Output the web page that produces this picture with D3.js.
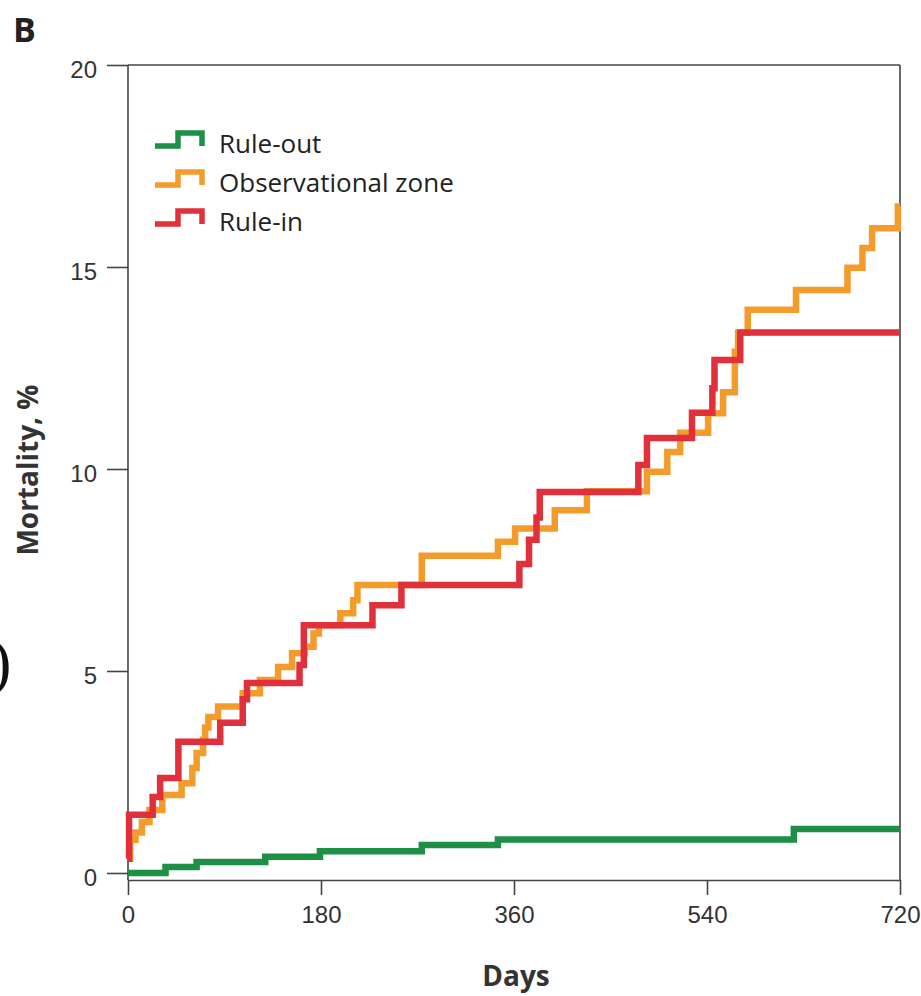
<!DOCTYPE html>
<html>
<head>
<meta charset="utf-8">
<script src="https://cdn.jsdelivr.net/npm/d3@7"></script>
<style>
  body { margin: 0; background: #fff; }
  svg { display: block; font-family: "Open Sans", "DejaVu Sans", sans-serif; }
  .axis text { font-size: 24px; fill: #333; }
  .axis line, .axis path { stroke: #444; stroke-width: 1.6; }
</style>
</head>
<body>
<svg width="921" height="996"></svg>
<script>
// step data: [day, mortality %] at which each curve changes level
var ruleOut = [[0,0],[35,0.15],[64,0.27],[128,0.4],[179,0.54],[274,0.69],[345,0.83],[621,1.09],[720,1.09]];

var obsZone = [[0,0.35],[2,0.82],[7,1.0],[13,1.26],[20,1.56],[32,1.93],[50,2.22],[60,2.6],[64,2.97],
  [70,3.3],[72,3.6],[75,3.86],[84,4.12],[107,4.45],[123,4.78],[140,5.1],[153,5.44],[165,5.6],
  [173,5.93],[178,6.13],[198,6.43],[210,6.75],[214,7.13],[274,7.85],[345,8.2],[361,8.53],
  [398,8.98],[428,9.45],[484,9.93],[503,10.42],[515,10.9],[541,11.38],[555,11.9],[566,12.9],
  [569,13.37],[578,13.94],[623,14.43],[671,14.98],[685,15.47],[694,15.96],[718,16.5],[720,16.5]];

var ruleIn = [[0,0.35],[1,1.44],[23,1.88],[30,2.35],[47,3.25],[86,3.72],[107,4.3],[111,4.7],
  [160,5.15],[164,6.13],[228,6.63],[255,7.13],[365,7.65],[374,8.25],[381,8.8],[384,9.43],
  [476,10.1],[484,10.77],[526,11.39],[545,12.0],[547,12.7],[571,13.38],[720,13.38]];

var seriesNames = ["Rule-out", "Observational zone", "Rule-in"];
var seriesColors = ["#1d8f46", "#f39c2c", "#e0303c"];
var xTicks = [0, 180, 360, 540, 720];
var yTicks = [0, 5, 10, 15, 20];

var svg = d3.select("svg");

var x = d3.scaleLinear().domain([0, 720]).range([128, 900]),
    y = d3.scaleLinear().domain([0, 20]).range([873, 65]);
var axisY = 880;

// panel letter
svg.append("text").attr("x", 13).attr("y", 42)
  .style("font-size", "34px").style("font-weight", "bold").style("fill", "#222")
  .text("B");

// stray bracket at left edge of the crop
svg.append("text").attr("x", -10).attr("y", 686)
  .style("font-family", "'DejaVu Serif', 'Liberation Serif', serif")
  .style("font-size", "60px").style("fill", "#111")
  .text(")");

// x axis
var gx = svg.append("g").attr("class", "axis")
  .attr("transform", "translate(0," + axisY + ")")
  .call(d3.axisBottom(x).tickValues(xTicks).tickSize(15).tickSizeOuter(0).tickPadding(11));

// y axis (domain drawn by hand so it reaches the x axis)
var gy = svg.append("g").attr("class", "axis")
  .attr("transform", "translate(" + x(0) + ",0)")
  .call(d3.axisLeft(y).tickValues(yTicks).tickSize(21).tickPadding(10));
gy.select(".domain").remove();
gy.selectAll(".tick text").attr("dy", "0.5em");

// frame lines: left, top, right
svg.append("line").attr("x1", x(0)).attr("x2", x(0)).attr("y1", y(20)).attr("y2", axisY)
  .attr("stroke", "#444").attr("stroke-width", 1.6);
svg.append("line").attr("x1", x(0)).attr("x2", x(720)).attr("y1", y(20)).attr("y2", y(20))
  .attr("stroke", "#444").attr("stroke-width", 1.6);
svg.append("line").attr("x1", x(720)).attr("x2", x(720)).attr("y1", y(20)).attr("y2", axisY)
  .attr("stroke", "#444").attr("stroke-width", 1.6);

// axis titles
svg.append("text").attr("x", 516).attr("y", 986).attr("text-anchor", "middle")
  .style("font-size", "28px").style("font-weight", "bold").style("fill", "#333")
  .text("Days");
svg.append("text").attr("transform", "translate(38,470) rotate(-90)").attr("text-anchor", "middle")
  .style("font-size", "28px").style("font-weight", "bold").style("fill", "#333")
  .text("Mortality, %");

// curves
var line = d3.line().x(d => x(d[0])).y(d => y(d[1])).curve(d3.curveStepAfter);
[ruleOut, obsZone, ruleIn].forEach(function(data, i) {
  svg.append("path")
    .datum(data)
    .attr("d", line)
    .attr("fill", "none")
    .attr("stroke", seriesColors[i])
    .attr("stroke-width", 6.5)
    .attr("stroke-linejoin", "miter")
    .attr("stroke-linecap", "butt");
});

// legend with little step icons
var legend = svg.append("g").attr("transform", "translate(155,146)");
seriesNames.forEach(function(name, i) {
  var row = legend.append("g").attr("transform", "translate(0," + (i * 39) + ")");
  row.append("path")
    .attr("d", "M0,0 H23 V-13 H47 V0")
    .attr("fill", "none")
    .attr("stroke", seriesColors[i])
    .attr("stroke-width", 5.5);
  row.append("text").attr("x", 64).attr("y", 7)
    .style("font-size", "26px").style("fill", "#222")
    .text(name);
});
</script>
</body>
</html>
